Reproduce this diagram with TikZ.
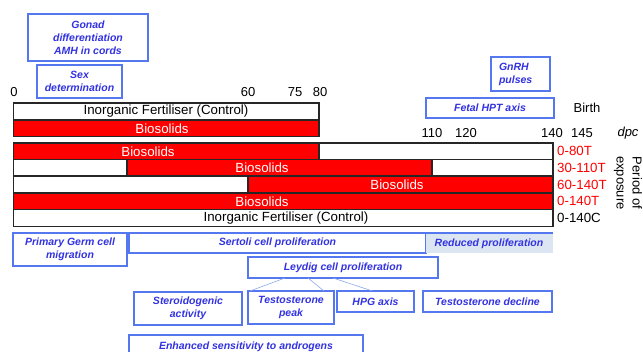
\documentclass[tikz,border=0pt]{standalone}
\usepackage{fontspec}
\setmainfont{Liberation Sans}
\usetikzlibrary{calc}
\definecolor{bx}{RGB}{85,120,240}
\definecolor{tb}{RGB}{50,50,225}
\definecolor{lb}{RGB}{220,230,243}
\definecolor{ln}{RGB}{140,170,235}
\begin{document}
\begin{tikzpicture}[x=1pt,y=-1pt,
  wbar/.style={draw=black!85,line width=1.1pt,fill=white},
  rbar/.style={draw=black!85,line width=1.1pt,fill=red},
  btxt/.style={font=\fontsize{13.3}{14}\selectfont,text=black,inner sep=0pt},
  wtxt/.style={font=\fontsize{13.3}{14}\selectfont,text=white,inner sep=0pt},
  ax/.style={font=\fontsize{13}{14}\selectfont,inner sep=0pt},
  rlab/.style={font=\fontsize{13.3}{14}\selectfont,text=red,anchor=west,inner sep=0pt},
  bbox/.style={draw=bx,line width=1.1pt,fill=white,text=tb,align=center,
    font=\fontsize{10.5}{13}\selectfont\bfseries\itshape,inner sep=1pt,outer sep=0pt},
  conn/.style={draw=ln,line width=0.6pt}]
\useasboundingbox (0,0) rectangle (643,352);
\clip (0,0) rectangle (643,352);
\fill[white] (0,0) rectangle (643,352);

% axis labels
\node[ax] (t0) at (14,92) {0};
\node[ax] (t60) at (248,92) {60};
\node[ax] (t75) at (295,92) {75};
\node[ax] (t80) at (320,92) {80};
\node[ax] (t110) at (432,133) {110};
\node[ax] (t120) at (466,133) {120};
\node[ax] (t140) at (552,133) {140};
\node[ax] (t145) at (582,133) {145};
\node[ax,font=\fontsize{13}{14}\selectfont\itshape] (dpc) at (628,133) {dpc};
\node[ax] (birth) at (587,108) {Birth};

% top group
\draw[wbar] (13.5,103) rectangle (319,120);
\draw[rbar] (13.5,120) rectangle (319,136.5);
\node[btxt] (ctl1) at (166,111.5) {Inorganic Fertiliser (Control)};
\node[wtxt] (bio1) at (162,128.3) {Biosolids};

% lower group
\draw[wbar] (13.5,143) rectangle (553,159.5);
\draw[rbar] (13.5,143) rectangle (319,159.5);
\draw[wbar] (13.5,159.5) rectangle (553,176);
\draw[rbar] (127,159.5) rectangle (432,176);
\draw[wbar] (13.5,176) rectangle (553,193);
\draw[rbar] (248,176) rectangle (553,193);
\draw[rbar] (13.5,193) rectangle (553,209.5);
\draw[wbar] (13.5,209.5) rectangle (553,226.5);
\node[wtxt] (bio2) at (148,151.3) {Biosolids};
\node[wtxt] (bio3) at (262,167.8) {Biosolids};
\node[wtxt] (bio4) at (397,184.5) {Biosolids};
\node[wtxt] (bio5) at (262,201.3) {Biosolids};
\node[btxt] (ctl2) at (286,218) {Inorganic Fertiliser (Control)};

% right labels
\node[rlab] (l1) at (557,151.3) {0-80T};
\node[rlab] (l2) at (557,167.8) {30-110T};
\node[rlab] (l3) at (557,184.5) {60-140T};
\node[rlab] (l4) at (557,201.3) {0-140T};
\node[rlab,text=black] (l5) at (557,218) {0-140C};
\node[font=\fontsize{13}{16}\selectfont,rotate=-90,align=center,inner sep=0pt] (per) at (628,183) {Period of\\exposure};

% top blue boxes
\node[bbox,minimum width=120pt,minimum height=47pt] (gon) at (88,37.5) {Gonad\\differentiation\\AMH in cords};
\node[bbox,minimum width=85pt,minimum height=33pt] (sex) at (79.5,81.5) {Sex\\determination};
\node[bbox,minimum height=34pt,text width=43pt,align=left,inner xsep=8pt] (gnrh) at (520.5,74) {GnRH\\pulses};
\node[bbox,minimum width=128pt,minimum height=20pt] (hpt) at (490,108) {Fetal HPT axis};

% bottom blue boxes
\node[bbox,minimum width=114pt,minimum height=33pt] (pgc) at (70,249.5) {Primary Germ cell\\migration};
\node[bbox,minimum width=297pt,minimum height=20pt] (ser) at (277.5,243) {Sertoli cell proliferation};
\fill[lb] (426,233) rectangle (553,253);
\draw[bx,line width=1.1pt] (426,233) -- (553,233);
\node[bbox,draw=none,fill=none] (red) at (489,244) {Reduced proliferation};
\node[bbox,minimum width=190pt,minimum height=21pt] (ley) at (343,267.5) {Leydig cell proliferation};
\node[bbox,minimum width=108pt,minimum height=33pt] (ster) at (188,308.5) {Steroidogenic\\activity};
\node[bbox,minimum width=86pt,minimum height=33pt] (tp) at (291,307.5) {Testosterone\\peak};
\node[bbox,minimum width=77pt,minimum height=21pt] (hpg) at (375.5,301.5) {HPG axis};
\node[bbox,minimum width=129pt,minimum height=21pt] (tdec) at (487.5,301.5) {Testosterone decline};
\node[bbox,minimum width=234pt,minimum height=24pt] (enh) at (246,347) {Enhanced sensitivity to androgens};

% connectors
\draw[conn] ([xshift=-58pt]ley.south) -- ([xshift=2pt]tp.north west);
\draw[conn] ([xshift=-35pt]ley.south) -- ([xshift=-10pt]tp.north east);
\draw[conn] ([xshift=-10pt]ley.south) -- ([xshift=-3pt]hpg.north);
\end{tikzpicture}
\end{document}
